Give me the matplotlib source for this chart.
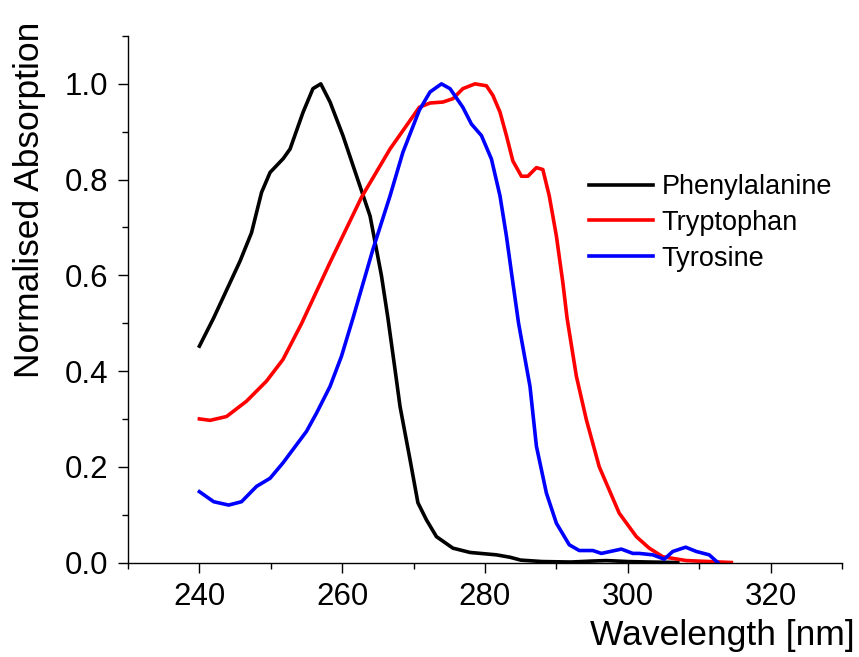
import matplotlib
matplotlib.use("Agg")
import matplotlib.pyplot as plt
from matplotlib.ticker import MultipleLocator

plt.rcParams['font.family'] = ['Liberation Sans', 'DejaVu Sans']

phe_wl = [240, 242, 245.7, 247.3, 248.7, 249.9, 251.75, 252.7, 254.5, 255.9, 257.0,
          258.3, 260.1, 262.0, 263.9, 264.8, 265.5, 266.4, 267.4, 268.1, 269.5, 270.6,
          271.8, 273.2, 275.5, 277.9, 281.6, 283.5, 285, 288, 292, 295, 297, 300, 303, 307]
phe_abs = [0.452, 0.511, 0.63, 0.689, 0.773, 0.815, 0.844, 0.864, 0.94, 0.99, 1.0,
           0.962, 0.892, 0.808, 0.724, 0.654, 0.599, 0.511, 0.403, 0.326, 0.215, 0.125,
           0.089, 0.054, 0.030, 0.021, 0.016, 0.011, 0.005, 0.002, 0.001, 0.003, 0.004,
           0.002, 0.001, 0.0]

trp_wl = [240, 241.5, 243.8, 246.6, 249.4, 251.7, 254.3, 258.3, 262.7, 266.7, 270.8,
          272.3, 274.1, 275.5, 276.9, 278.6, 280.2, 281.1, 282.1, 283.0, 283.9, 285.1,
          286.0, 287.2, 288.1, 289.0, 290.0, 290.9, 291.5, 292.8, 294.2, 296.0, 298.8,
          301.2, 303.0, 304.9, 308.2, 314.5]
trp_abs = [0.30, 0.297, 0.305, 0.337, 0.379, 0.424, 0.499, 0.627, 0.763, 0.864, 0.951,
           0.960, 0.962, 0.969, 0.99, 1.0, 0.996, 0.976, 0.941, 0.892, 0.839, 0.807,
           0.807, 0.825, 0.821, 0.766, 0.682, 0.585, 0.51, 0.389, 0.298, 0.2, 0.103,
           0.054, 0.030, 0.012, 0.004, 0.0]

tyr_wl = [240, 242, 244.1, 245.9, 248.0, 249.9, 251.7, 253.6, 255.0, 256.4, 258.3,
          259.9, 261.5, 264.3, 266.7, 268.5, 270.8, 272.3, 273.9, 275.1, 276.9, 278.1,
          279.5, 280.9, 282.1, 283.0, 283.9, 284.7, 286.3, 287.2, 288.6, 290.0, 291.8,
          293.2, 295.1, 296.3, 299.1, 300.7, 301.6, 303.5, 305.1, 306.3, 308.1, 309.6,
          311.4, 312.6]
tyr_abs = [0.148, 0.127, 0.120, 0.127, 0.159, 0.176, 0.208, 0.246, 0.274, 0.312, 0.368,
           0.431, 0.51, 0.654, 0.766, 0.857, 0.945, 0.983, 1.0, 0.99, 0.951, 0.916,
           0.892, 0.843, 0.766, 0.682, 0.585, 0.50, 0.368, 0.243, 0.145, 0.082, 0.037,
           0.025, 0.025, 0.019, 0.028, 0.019, 0.019, 0.016, 0.007, 0.023, 0.032, 0.023,
           0.016, 0.0]

series_names = ["Phenylalanine", "Tryptophan", "Tyrosine"]
x_ticks = [240, 260, 280, 300, 320]
y_ticks = [0.0, 0.2, 0.4, 0.6, 0.8, 1.0]

fig = plt.figure(figsize=(8.59, 6.57), dpi=100)
ax = fig.add_axes([128/859, 1 - 562.5/657, (842-128)/859, (562.5-36)/657])

lw = 2.6
ax.plot(phe_wl, phe_abs, color='black', lw=lw, label=series_names[0], solid_joinstyle='round')
ax.plot(trp_wl, trp_abs, color='#ff0000', lw=lw, label=series_names[1], solid_joinstyle='round')
ax.plot(tyr_wl, tyr_abs, color='#0000ff', lw=lw, label=series_names[2], solid_joinstyle='round')

ax.set_xlim(230, 330)
ax.set_ylim(0, 1.1)
ax.set_xticks(x_ticks)
ax.set_yticks(y_ticks)
ax.set_yticklabels([f"{v:.1f}" for v in y_ticks])
ax.xaxis.set_minor_locator(MultipleLocator(10))
ax.yaxis.set_minor_locator(MultipleLocator(0.1))

for s in ['top', 'right']:
    ax.spines[s].set_visible(False)
for s in ['left', 'bottom']:
    ax.spines[s].set_linewidth(1.0)

ax.tick_params(which='major', direction='out', length=7, width=1.0, labelsize=22.5, pad=7)
ax.tick_params(which='minor', direction='out', length=4.5, width=1.0)

ax.set_xlabel("Wavelength [nm]", fontsize=25.5)
ax.set_ylabel("Normalised Absorption", fontsize=25.5)
ax.xaxis.set_label_coords(0.833, -0.108)
ax.yaxis.set_label_coords(-0.115, 0.689)

leg = ax.legend(loc='upper left', bbox_to_anchor=(589/859, 1 - 174/657),
                bbox_transform=fig.transFigure, frameon=False, fontsize=19.5,
                handlelength=2.36, handletextpad=0.33, labelspacing=0.36,
                borderpad=0, borderaxespad=0)

fig.savefig("out.png", dpi=100)
